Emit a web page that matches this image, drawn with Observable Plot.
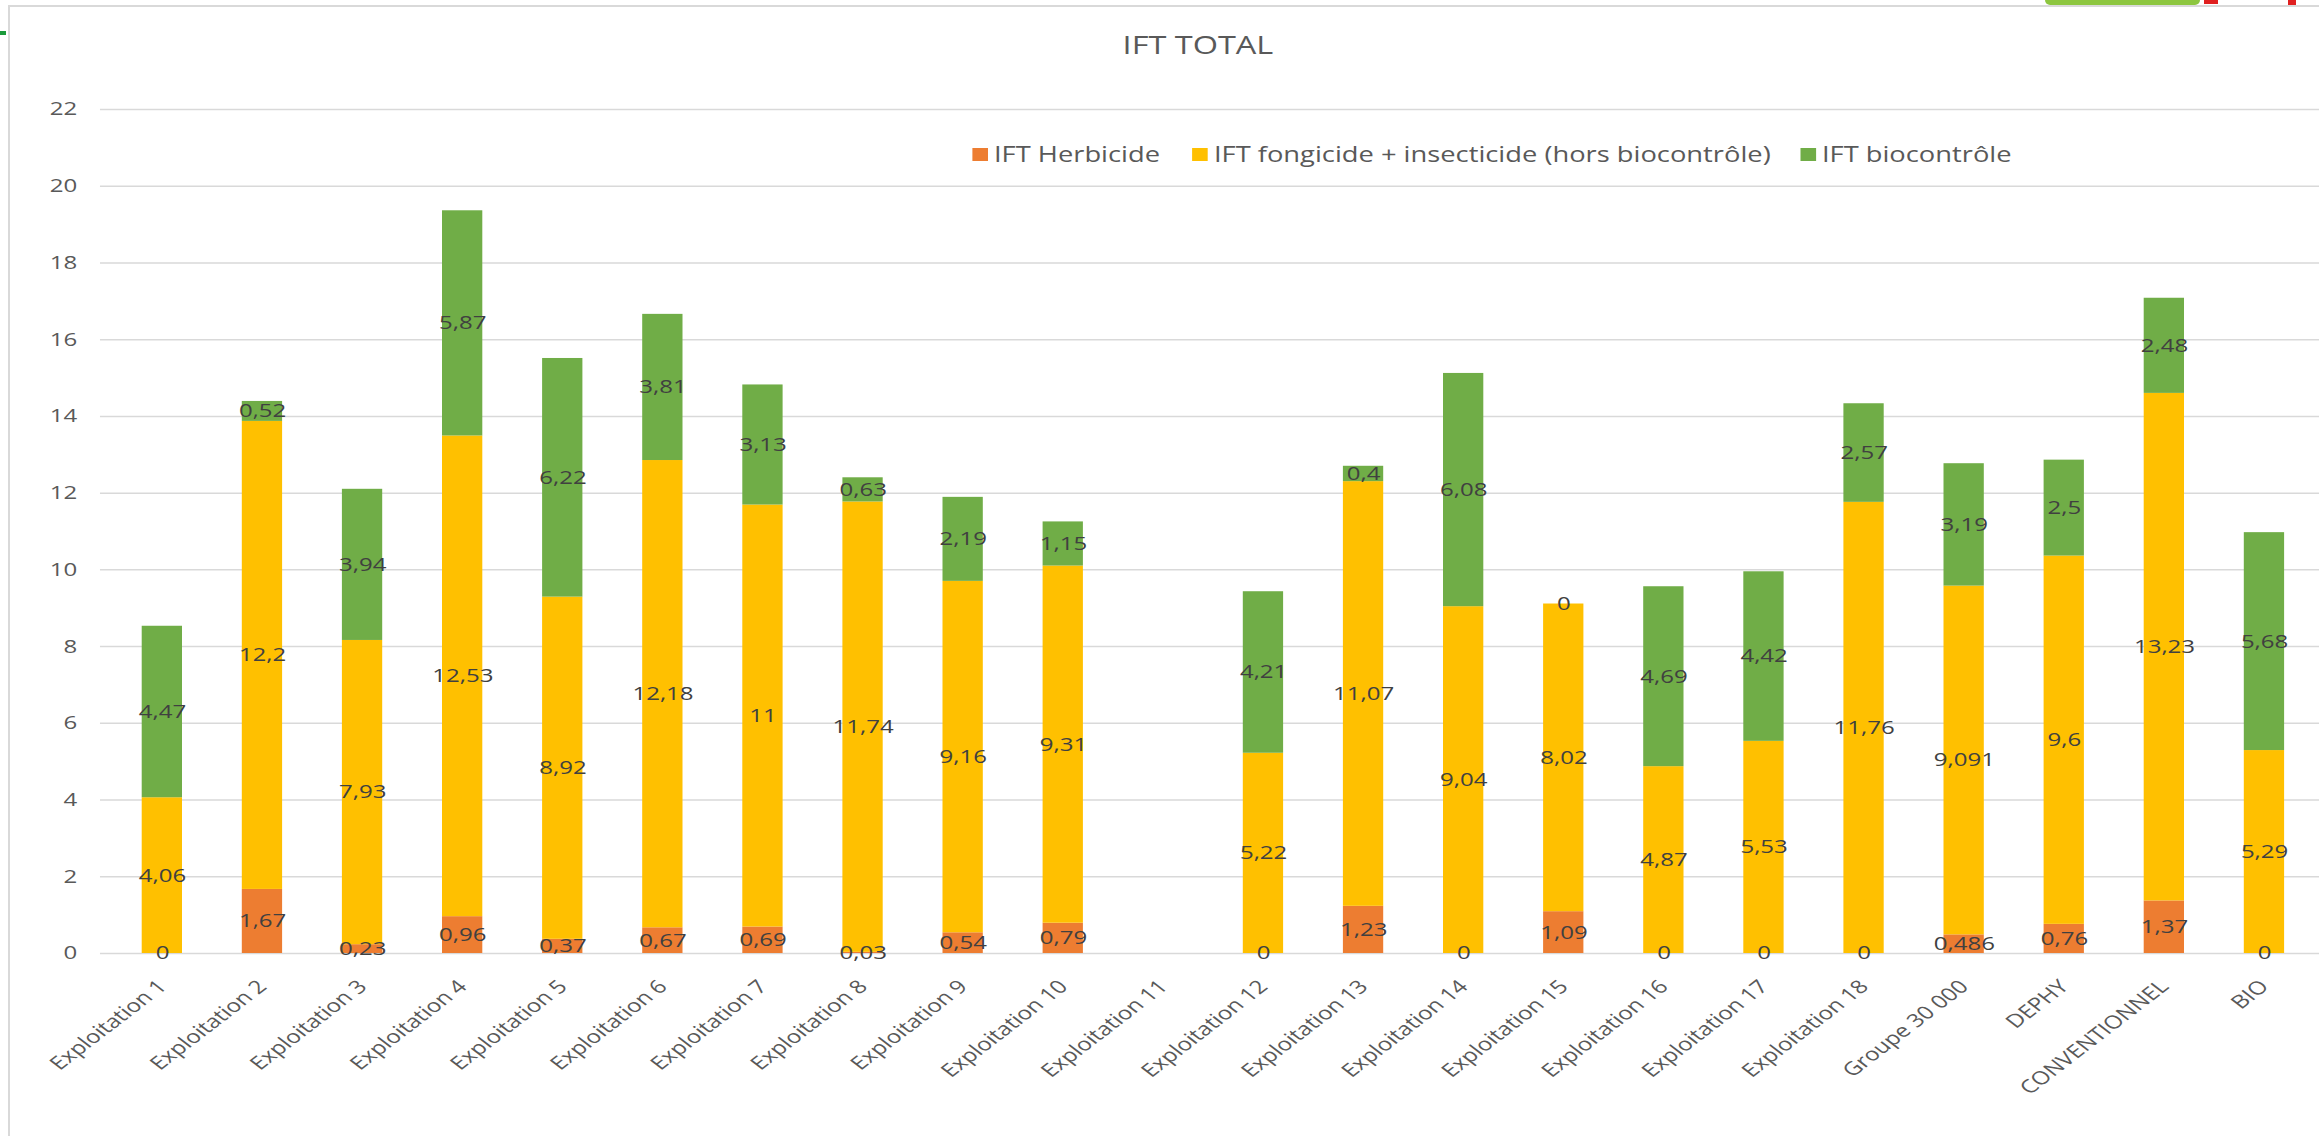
<!DOCTYPE html>
<html>
<head>
<meta charset="utf-8">
<script src="https://cdn.jsdelivr.net/npm/d3@7"></script>
<script src="https://cdn.jsdelivr.net/npm/@observablehq/plot@0.6"></script>
<style>
  html, body { margin: 0; padding: 0; background: #fff; overflow: hidden; width: 2319px; height: 1136px; }
  body { position: relative; font-family: 'Open Sans', sans-serif; }
  #frame { position: absolute; left: 8px; top: 5px; width: 2400px; height: 2000px; border: 2px solid #d9d9d9; box-sizing: border-box; }
  /* the reference picture is stretched horizontally by ~1.3; reproduce it on the whole stage */
  #stage { position: absolute; left: 0; top: 0; width: 1792px; height: 1136px; transform: scaleX(1.3); transform-origin: 0 0; }
  #chart { position: absolute; left: 0; top: 0; }
  #title { position: absolute; left: 921.5px; top: 30px; transform: translateX(-50%); font-size: 25px; line-height: 28px; color: #595959; white-space: nowrap; }
  .leg { position: absolute; top: 140px; height: 28px; display: flex; align-items: center; font-size: 21px; color: #595959; white-space: nowrap; }
  .leg span.sw { display: inline-block; width: 12.3px; height: 13px; margin-right: 4.6px; }
  .deco { position: absolute; }
</style>
</head>
<body>
<div id="frame"></div>
<div class="deco" style="left:0;top:31px;width:6px;height:4px;background:#1a9a3a"></div>
<div class="deco" style="left:2045px;top:0;width:155px;height:5px;background:#8dc63f;border-radius:0 0 40px 40px"></div>
<div class="deco" style="left:2204px;top:0;width:14px;height:4px;background:#e02020"></div>
<div class="deco" style="left:2288px;top:0;width:8px;height:5px;background:#e02020"></div>
<div id="stage">
  <div id="chart"></div>
  <div id="title">IFT TOTAL</div>
  <div id="legend"></div>
</div>
<script>
const categories = ["Exploitation 1","Exploitation 2","Exploitation 3","Exploitation 4","Exploitation 5","Exploitation 6","Exploitation 7","Exploitation 8","Exploitation 9","Exploitation 10","Exploitation 11","Exploitation 12","Exploitation 13","Exploitation 14","Exploitation 15","Exploitation 16","Exploitation 17","Exploitation 18","Groupe 30 000","DEPHY","CONVENTIONNEL","BIO"];
const herbicide   = [0, 1.67, 0.23, 0.96, 0.37, 0.67, 0.69, 0.03, 0.54, 0.79, null, 0, 1.23, 0, 1.09, 0, 0, 0, 0.486, 0.76, 1.37, 0];
const fongicide   = [4.06, 12.2, 7.93, 12.53, 8.92, 12.18, 11, 11.74, 9.16, 9.31, null, 5.22, 11.07, 9.04, 8.02, 4.87, 5.53, 11.76, 9.091, 9.6, 13.23, 5.29];
const biocontrole = [4.47, 0.52, 3.94, 5.87, 6.22, 3.81, 3.13, 0.63, 2.19, 1.15, null, 4.21, 0.4, 6.08, 0, 4.69, 4.42, 2.57, 3.19, 2.5, 2.48, 5.68];
const seriesNames = ["IFT Herbicide", "IFT fongicide + insecticide (hors biocontrôle)", "IFT biocontrôle"];
const seriesColors = ["#ED7D31", "#FFC000", "#70AD47"];
const yTicks = [0, 2, 4, 6, 8, 10, 12, 14, 16, 18, 20, 22];

const seriesValues = [herbicide, fongicide, biocontrole];
const rows = [];
seriesValues.forEach((vals, s) => {
  vals.forEach((v, i) => {
    if (v !== null) rows.push({cat: categories[i], series: seriesNames[s], value: v});
  });
});
const fmt = v => String(v).replace(".", ",");

const chart = Plot.plot({
  width: 1792,
  height: 1136,
  marginTop: 109,
  marginBottom: 183,
  marginLeft: 76.9,
  marginRight: 2.6,
  style: {fontFamily: "'Open Sans', sans-serif", color: "#595959", background: "transparent", overflow: "visible"},
  x: {domain: categories, paddingInner: 0.6, paddingOuter: 0.3, label: null},
  y: {domain: [0, 22], label: null},
  color: {domain: seriesNames, range: seriesColors},
  marks: [
    Plot.gridY(yTicks, {stroke: "#D9D9D9", strokeOpacity: 1, strokeWidth: 1.5}),
    Plot.barY(rows, {x: "cat", y: "value", fill: "series", z: "series"}),
    Plot.text(rows, Plot.stackY({x: "cat", y: "value", z: "series", text: d => fmt(d.value), fill: "#404040", fontSize: 18.5})),
    Plot.axisY(yTicks, {tickSize: 0, tickPadding: 18, fontSize: 18.5, color: "#595959", label: null}),
    Plot.axisX({tickSize: 0, tickPadding: 30, tickRotate: -45, fontSize: 18.5, color: "#595959", label: null})
  ]
});
document.getElementById("chart").appendChild(chart);

const legendLefts = [747.7, 916.9, 1384.6];
const legend = document.getElementById("legend");
seriesNames.forEach((name, i) => {
  const item = document.createElement("div");
  item.className = "leg";
  item.style.left = legendLefts[i] + "px";
  const sw = document.createElement("span");
  sw.className = "sw";
  sw.style.background = seriesColors[i];
  item.appendChild(sw);
  item.appendChild(document.createTextNode(name));
  legend.appendChild(item);
});
</script>
</body>
</html>
